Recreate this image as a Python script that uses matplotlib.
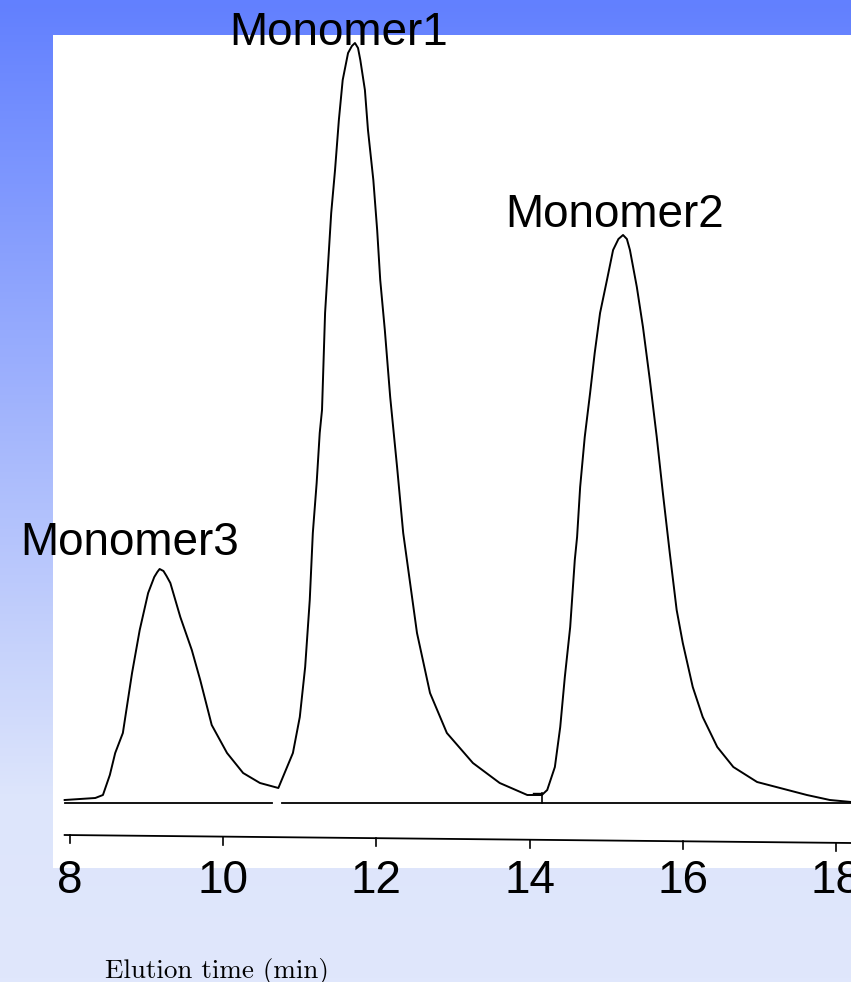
import numpy as np
import matplotlib
matplotlib.use("Agg")
from matplotlib import pyplot as plt
from matplotlib.colors import LinearSegmentedColormap

# elution time (min) and detector signal (arb. units, baseline = 0)
time_min = [7.93, 8.33, 8.43, 8.52, 8.59, 8.69, 8.81, 8.91, 9.02, 9.10, 9.14,
            9.17, 9.22, 9.26, 9.31, 9.44, 9.59, 9.70, 9.85, 10.05, 10.26,
            10.48, 10.72, 10.91, 11.00, 11.07, 11.13, 11.17, 11.22, 11.26,
            11.29, 11.33, 11.37, 11.41, 11.46, 11.51, 11.56, 11.63, 11.68,
            11.72, 11.76, 11.79, 11.85, 11.89, 11.96, 12.01, 12.05, 12.11,
            12.18, 12.27, 12.35, 12.44, 12.53, 12.70, 12.92, 13.26, 13.61,
            13.97, 14.16, 14.23, 14.33, 14.40, 14.46, 14.53, 14.59, 14.62,
            14.66, 14.72, 14.79, 14.85, 14.92, 15.01, 15.09, 15.16, 15.22,
            15.27, 15.31, 15.40, 15.48, 15.57, 15.66, 15.74, 15.83, 15.92,
            16.00, 16.13, 16.26, 16.45, 16.66, 16.97, 17.27, 17.62, 17.92,
            18.20]
signal = [3, 5, 8, 28, 50, 70, 130, 173, 210, 226, 231,
          234, 232, 227, 220, 186, 153, 123, 78, 50, 30,
          20, 15, 50, 86, 136, 203, 270, 320, 370,
          393, 490, 540, 590, 633, 683, 723, 750, 757,
          760, 755, 743, 713, 673, 623, 573, 523, 473,
          406, 336, 270, 220, 170, 110, 70, 40, 20,
          8, 8, 13, 36, 76, 126, 176, 243, 266,
          316, 366, 410, 450, 490, 523, 553, 564, 568,
          564, 553, 516, 476, 423, 366, 310, 250, 193,
          160, 116, 86, 56, 36, 21, 15, 8, 3,
          1]

peak_names = ["Monomer1", "Monomer2", "Monomer3"]
peak_label_x = [11.51, 15.11, 8.78]
peak_label_y = [758, 576, 248]

tick_values = [8, 10, 12, 14, 16, 18]
tick_labels = ["8", "10", "12", "14", "16", "18"]

fig = plt.figure(figsize=(8.51, 9.82), dpi=100)

# blue gradient background
bg = fig.add_axes([0, 0, 1, 1], zorder=0)
grad = np.linspace(0, 1, 256).reshape(-1, 1)
cmap = LinearSegmentedColormap.from_list(
    "bg", [(0.0, "#6280ff"), (0.81, "#dde5fb"), (1.0, "#e0e7fc")])
bg.imshow(grad, aspect="auto", cmap=cmap, extent=[0, 1, 0, 1], origin="upper")
bg.set_axis_off()

ax = fig.add_axes([53 / 851, 1 - 868 / 982, 1 - 53 / 851, (868 - 35) / 982], zorder=1)
ax.set_facecolor("white")
ax.set_xlim(7.778, 18.196)
ax.set_ylim(-65, 768)
for s in ax.spines.values():
    s.set_visible(False)

# chromatogram trace
ax.plot(time_min, signal, color="black", lw=1.4, solid_joinstyle="round")

# baseline (broken at the first valley) and integration marker
ax.plot([7.93, 10.64], [0, 0], color="black", lw=1.3)
ax.plot([10.77, 18.2], [0, 0], color="black", lw=1.3)
ax.plot([14.16, 14.16], [0, 10], color="black", lw=1.2)
ax.plot([14.05, 14.16], [10, 10], color="black", lw=1.0)

# time axis line with ticks
ax.plot([7.93, 18.2], [-32, -40], color="black", lw=1.3)
for t in tick_values:
    yb = -32 - 8 * (t - 7.93) / (18.2 - 7.93)
    ax.plot([t, t], [yb, yb - 8], color="black", lw=1.2)

ax.set_xticks(tick_values)
ax.set_xticklabels(tick_labels, fontsize=33, family="Liberation Sans")
ax.tick_params(axis="x", length=0, pad=-6.5)
ax.set_yticks([])

for name, x, y in zip(peak_names, peak_label_x, peak_label_y):
    ax.text(x, y, name, ha="center", va="baseline", fontsize=33,
            family="Liberation Sans", clip_on=False, zorder=5)

fig.text(105 / 851, 1 - 978 / 982, "Elution time (min)", ha="left",
         va="baseline", fontsize=19.5, family=["cmr10", "DejaVu Serif"])

fig.savefig("out.png", dpi=100)
plt.close(fig)
